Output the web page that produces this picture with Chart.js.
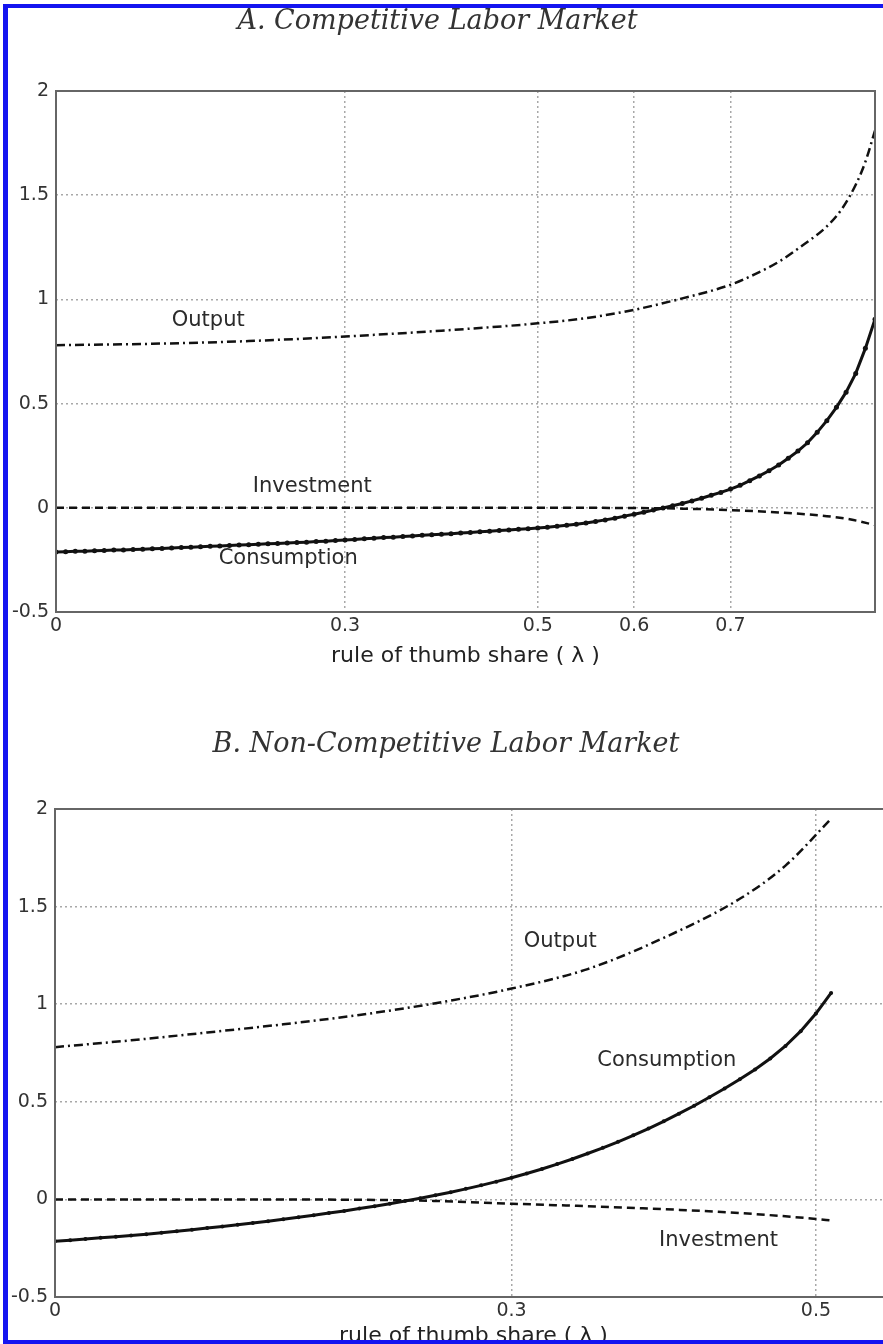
<!DOCTYPE html>
<html lang="en">
<head>
    <meta charset="UTF-8">
    <title>Rule of thumb share</title>
    <script src="https://cdn.jsdelivr.net/npm/chart.js"></script>
    <style>
        html, body { margin: 0; padding: 0; background: #fff; overflow: hidden; }
        body { width: 883px; height: 1344px; position: relative; }
        canvas { position: absolute; left: 0; }
        #chartA { top: 0; }
        #chartB { top: 700px; }
        /* blue frame round the scanned page */
        #frame {
            position: absolute; left: 3px; top: 4px; width: 1000px; height: 1332px;
            border-left: 5px solid #1414f0; border-top: 4px solid #1414f0; border-bottom: 4px solid #1414f0;
            pointer-events: none; z-index: 5;
        }
    </style>
</head>
<body>
    <canvas id="chartA" width="883" height="690"></canvas>
    <canvas id="chartB" width="900" height="660"></canvas>
    <div id="frame"></div>

    <script>
        // ---- Panel A: competitive labor market ----
        const lambdaA = [0.00,0.01,0.02,0.03,0.04,0.05,0.06,0.07,0.08,0.09,
                         0.10,0.11,0.12,0.13,0.14,0.15,0.16,0.17,0.18,0.19,
                         0.20,0.21,0.22,0.23,0.24,0.25,0.26,0.27,0.28,0.29,
                         0.30,0.31,0.32,0.33,0.34,0.35,0.36,0.37,0.38,0.39,
                         0.40,0.41,0.42,0.43,0.44,0.45,0.46,0.47,0.48,0.49,
                         0.50,0.51,0.52,0.53,0.54,0.55,0.56,0.57,0.58,0.59,
                         0.60,0.61,0.62,0.63,0.64,0.65,0.66,0.67,0.68,0.69,
                         0.70,0.71,0.72,0.73,0.74,0.75,0.76,0.77,0.78,0.79,
                         0.80,0.81,0.82,0.83,0.84,0.85];
        const consumptionA = [-0.212,-0.211,-0.209,-0.208,-0.206,-0.205,-0.203,-0.202,-0.200,-0.199,
                              -0.197,-0.195,-0.193,-0.191,-0.189,-0.187,-0.185,-0.183,-0.181,-0.179,
                              -0.177,-0.175,-0.173,-0.171,-0.169,-0.167,-0.165,-0.162,-0.160,-0.157,
                              -0.154,-0.152,-0.149,-0.146,-0.143,-0.141,-0.138,-0.135,-0.132,-0.129,
                              -0.127,-0.124,-0.121,-0.118,-0.115,-0.112,-0.109,-0.106,-0.103,-0.100,
                              -0.097,-0.093,-0.089,-0.084,-0.079,-0.073,-0.066,-0.058,-0.050,-0.040,
                              -0.031,-0.021,-0.011,-0.001,0.010,0.021,0.033,0.046,0.060,0.074,
                              0.090,0.108,0.130,0.153,0.178,0.205,0.238,0.272,0.312,0.362,
                              0.418,0.482,0.555,0.645,0.765,0.905];
        const outputLambdaA = [0, 0.1, 0.2, 0.3, 0.4, 0.5, 0.55, 0.6, 0.65, 0.7, 0.725, 0.75, 0.775, 0.8, 0.815, 0.83, 0.84, 0.85];
        const outputA = [0.78, 0.787, 0.80, 0.822, 0.85, 0.885, 0.91, 0.95, 1.005, 1.07, 1.12, 1.18, 1.26, 1.35, 1.43, 1.55, 1.66, 1.81];
        const investLambdaA = [0, 0.1, 0.2, 0.3, 0.4, 0.5, 0.6, 0.65, 0.7, 0.75, 0.8, 0.825, 0.85];
        const investmentA = [0, 0, 0, 0, 0, 0, -0.001, -0.004, -0.011, -0.022, -0.040, -0.056, -0.083];
        const xTicksA = [0, 0.3, 0.5, 0.6, 0.7];

        // ---- Panel B: non-competitive labor market ----
        const lambdaB = [0.00,0.01,0.02,0.03,0.04,0.05,0.06,0.07,0.08,0.09,
                         0.10,0.11,0.12,0.13,0.14,0.15,0.16,0.17,0.18,0.19,
                         0.20,0.21,0.22,0.23,0.24,0.25,0.26,0.27,0.28,0.29,
                         0.30,0.31,0.32,0.33,0.34,0.35,0.36,0.37,0.38,0.39,
                         0.40,0.41,0.42,0.43,0.44,0.45,0.46,0.47,0.48,0.49,
                         0.50,0.51];
        const consumptionB = [-0.215,-0.209,-0.203,-0.197,-0.191,-0.185,-0.178,-0.171,-0.163,-0.155,
                              -0.147,-0.139,-0.130,-0.121,-0.112,-0.102,-0.092,-0.081,-0.070,-0.059,
                              -0.047,-0.035,-0.022,-0.008,0.006,0.021,0.037,0.054,0.072,0.091,
                              0.111,0.133,0.156,0.181,0.207,0.235,0.264,0.295,0.328,0.363,
                              0.400,0.439,0.480,0.523,0.568,0.615,0.666,0.722,0.786,0.862,
                              0.952,1.058];
        const outputLambdaB = [0, 0.05, 0.1, 0.15, 0.2, 0.25, 0.3, 0.35, 0.4, 0.45, 0.48, 0.51];
        const outputB = [0.78, 0.815, 0.855, 0.897, 0.945, 1.005, 1.08, 1.18, 1.34, 1.54, 1.71, 1.95];
        const investLambdaB = [0, 0.1, 0.2, 0.25, 0.3, 0.35, 0.4, 0.45, 0.5, 0.51];
        const investmentB = [0, 0, -0.002, -0.008, -0.022, -0.035, -0.050, -0.070, -0.100, -0.108];
        const xTicksB = [0, 0.3, 0.5];

        const yTicks = [-0.5, 0, 0.5, 1, 1.5, 2];

        // pair x and y arrays into points
        function pts(xs, ys) {
            return xs.map((x, i) => ({ x: x, y: ys[i] }));
        }

        function makePanel(id, p) {
            // frame round the plot area and the curve labels inside it
            const framePlugin = {
                id: 'frame',
                afterDraw(chart) {
                    const { ctx, chartArea: a, scales } = chart;
                    ctx.save();
                    ctx.strokeStyle = '#666';
                    ctx.lineWidth = 2;
                    ctx.strokeRect(a.left, a.top, a.right - a.left, a.bottom - a.top);
                    ctx.fillStyle = '#2b2b2b';
                    ctx.font = '21px "DejaVu Sans"';
                    ctx.textAlign = 'center';
                    ctx.textBaseline = 'middle';
                    p.notes.forEach(n => {
                        ctx.fillText(n.text, scales.x.getPixelForValue(n.x), scales.y.getPixelForValue(n.y));
                    });
                    ctx.restore();
                }
            };

            return new Chart(document.getElementById(id), {
                type: 'line',
                data: {
                    datasets: [
                        {
                            label: 'Output',
                            data: pts(p.outX, p.out),
                            borderColor: '#111',
                            borderWidth: 2.5,
                            borderDash: [9, 4, 2, 4],
                            pointRadius: 0,
                            cubicInterpolationMode: 'monotone'
                        },
                        {
                            label: 'Investment',
                            data: pts(p.invX, p.inv),
                            borderColor: '#111',
                            borderWidth: 2.5,
                            borderDash: [8, 5],
                            pointRadius: 0,
                            cubicInterpolationMode: 'monotone'
                        },
                        {
                            label: 'Consumption',
                            data: pts(p.consX, p.cons),
                            borderColor: '#111',
                            borderWidth: 3,
                            pointRadius: p.markerSize,
                            pointBackgroundColor: '#111',
                            pointBorderWidth: 0,
                            tension: 0
                        }
                    ]
                },
                options: {
                    responsive: false,
                    animation: false,
                    layout: { padding: { left: 0, right: 8, top: 0, bottom: 0 } },
                    plugins: {
                        legend: { display: false },
                        tooltip: { enabled: false },
                        title: {
                            display: true,
                            text: p.title,
                            color: '#333',
                            font: { family: 'DejaVu Serif', style: 'italic', size: 27, weight: 'normal' },
                            padding: p.titlePad
                        }
                    },
                    scales: {
                        x: {
                            type: 'linear',
                            min: 0,
                            max: p.xMax,
                            afterBuildTicks: axis => { axis.ticks = p.xTicks.map(v => ({ value: v })); },
                            afterFit: axis => { axis.height = p.xAxisHeight; },
                            grid: { color: '#a8a8a8', lineWidth: 1.5, drawTicks: false },
                            border: { display: false, dash: [2, 3] },
                            ticks: {
                                color: '#333',
                                padding: 3,
                                maxRotation: 0,
                                font: { family: 'DejaVu Sans', size: 19 },
                                callback: v => String(v)
                            },
                            title: {
                                display: true,
                                text: 'rule of thumb share ( λ )',
                                color: '#222',
                                font: { family: 'DejaVu Sans', size: 22 },
                                padding: { top: 0, bottom: p.xTitlePad }
                            }
                        },
                        y: {
                            min: -0.5,
                            max: 2,
                            afterBuildTicks: axis => { axis.ticks = yTicks.map(v => ({ value: v })); },
                            afterFit: axis => { axis.width = p.yAxisWidth; },
                            grid: { color: '#a8a8a8', lineWidth: 1.5, drawTicks: false },
                            border: { display: false, dash: [2, 3] },
                            ticks: {
                                color: '#333',
                                padding: 7,
                                font: { family: 'DejaVu Sans', size: 19 },
                                callback: v => String(v)
                            }
                        }
                    }
                },
                plugins: [framePlugin]
            });
        }

        makePanel('chartA', {
            title: 'A. Competitive Labor Market',
            titlePad: { top: 6, bottom: 52.6 },
            xMax: 0.85,
            xTicks: xTicksA,
            xAxisHeight: 78,
            xTitlePad: 21,
            yAxisWidth: 56,
            markerSize: 2.5,
            outX: outputLambdaA, out: outputA,
            invX: investLambdaA, inv: investmentA,
            consX: lambdaA, cons: consumptionA,
            notes: [
                { text: 'Output', x: 0.158, y: 0.90 },
                { text: 'Investment', x: 0.266, y: 0.10 },
                { text: 'Consumption', x: 0.241, y: -0.245 }
            ]
        });

        makePanel('chartB', {
            title: 'B. Non-Competitive Labor Market',
            titlePad: { top: 28.8, bottom: 47.8 },
            xMax: 0.55,
            xTicks: xTicksB,
            xAxisHeight: 63,
            xTitlePad: 11,
            yAxisWidth: 55,
            markerSize: 2,
            outX: outputLambdaB, out: outputB,
            invX: investLambdaB, inv: investmentB,
            consX: lambdaB, cons: consumptionB,
            notes: [
                { text: 'Output', x: 0.332, y: 1.32 },
                { text: 'Consumption', x: 0.402, y: 0.71 },
                { text: 'Investment', x: 0.436, y: -0.21 }
            ]
        });
    </script>
</body>
</html>
